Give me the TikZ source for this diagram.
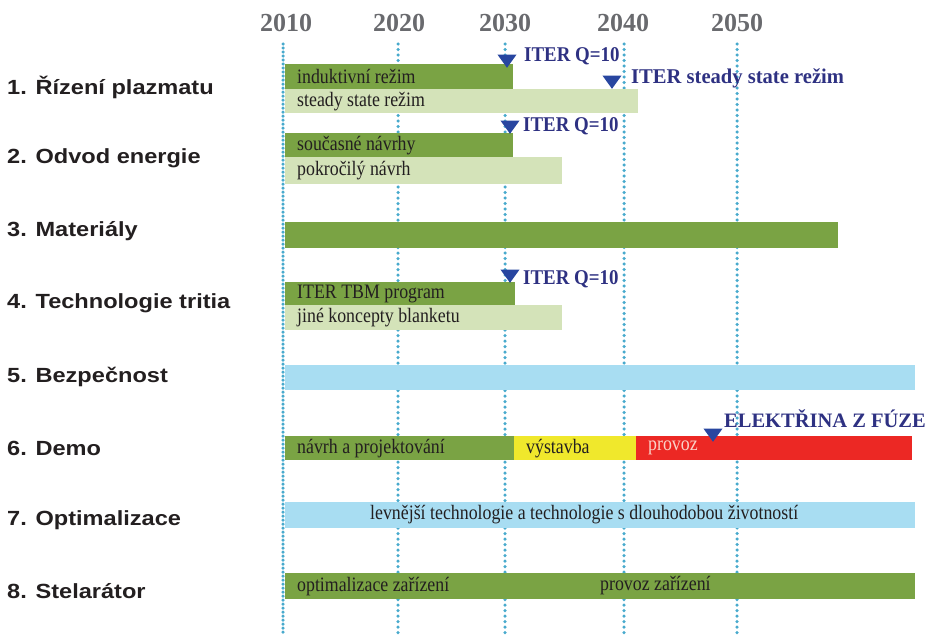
\documentclass[tikz,border=0pt]{standalone}
\usepackage{fontspec}
\setmainfont{Liberation Serif}
\setsansfont{Liberation Sans}
\newfontfamily\labelfont[FakeStretch=1.15]{Liberation Sans}
\newfontfamily\barfont[FakeStretch=0.87]{Liberation Serif}
\newfontfamily\iterfont[FakeStretch=0.9]{Liberation Serif}
\newfontfamily\iterwfont[FakeStretch=0.98]{Liberation Serif}
\usetikzlibrary{shapes.geometric}
\definecolor{dgreen}{RGB}{122,163,68}
\definecolor{lgreen}{RGB}{212,227,185}
\definecolor{lblue}{RGB}{168,221,242}
\definecolor{dyellow}{RGB}{240,232,44}
\definecolor{dred}{RGB}{236,40,36}
\definecolor{mblue}{RGB}{40,70,160}
\definecolor{tblue}{RGB}{46,49,130}
\definecolor{ygray}{RGB}{105,106,110}
\definecolor{dotc}{RGB}{72,170,205}
\definecolor{ink}{RGB}{35,31,32}
\definecolor{pinktext}{RGB}{250,210,200}
\tikzset{
  bar/.style={anchor=north west, inner sep=0pt, draw=none},
  bartext/.style={anchor=west, inner sep=0pt, font=\barfont\fontsize{20.5}{20.5}\selectfont, text=ink},
  rowlabel/.style={anchor=west, inner sep=0pt, font=\labelfont\bfseries\fontsize{20.5}{20.5}\selectfont, text=ink},
  year/.style={font=\bfseries\fontsize{26}{26}\selectfont, text=ygray, inner sep=0pt},
  gridline/.style={dotc, line width=3.5pt, line cap=round, dash pattern=on 0pt off 5.5pt},
  marker/.style={regular polygon, regular polygon sides=3, shape border rotate=180, fill=mblue, minimum size=22pt, inner sep=0pt, yscale=0.8, transform shape},
  mtext/.style={anchor=west, inner sep=0pt, font=\iterfont\bfseries\fontsize{21}{21}\selectfont, text=tblue},
}
\newcommand\mkbar[7]{%
  \node[bar, fill=#6, minimum width={(#4-#2)*1pt}, minimum height={(#5-#3)*1pt}] (#1) at (#2,#3) {};
  \node[bartext] (#1t) at ([xshift=12pt]#1.west) {#7};
}
\newcommand\mkplainbar[6]{%
  \node[bar, fill=#6, minimum width={(#4-#2)*1pt}, minimum height={(#5-#3)*1pt}] (#1) at (#2,#3) {};
}
\begin{document}
\begin{tikzpicture}[x=1pt,y=-1pt]
\useasboundingbox (0,0) rectangle (935,635);
% years
\node[year] (y2010) at (286,22.5) {2010};
\node[year] (y2020) at (399,22.5) {2020};
\node[year] (y2030) at (505,22.5) {2030};
\node[year] (y2040) at (623,22.5) {2040};
\node[year] (y2050) at (737,22.5) {2050};
% grid lines
\foreach \n/\x in {1/283,2/398,3/505,4/624,5/737}{
  \coordinate (g\n t) at (\x,44);
  \coordinate (g\n b) at (\x,635);
}
\draw[gridline, dash pattern=on 0pt off 4pt] (g1t) -- (g1b);
\foreach \n in {2,3,4,5}{\draw[gridline] (g\n t) -- (g\n b);}
% row labels
\node[rowlabel] (l1) at (7,87) {1. Řízení plazmatu};
\node[rowlabel] (l2) at (7,158) {2. Odvod energie};
\node[rowlabel] (l3) at (7,231) {3. Materiály};
\node[rowlabel] (l4) at (7,303) {4. Technologie tritia};
\node[rowlabel] (l5) at (7,377) {5. Bezpečnost};
\node[rowlabel] (l6) at (7,448) {6. Demo};
\node[rowlabel] (l7) at (7,520) {7. Optimalizace};
\node[rowlabel] (l8) at (7,591) {8. Stelarátor};
% bars
\mkbar{r1a}{285}{64}{513}{89}{dgreen}{induktivní režim}
\mkbar{r1b}{285}{89}{638}{113}{lgreen}{steady state režim}
\mkbar{r2a}{285}{133}{513}{157}{dgreen}{současné návrhy}
\mkbar{r2b}{285}{157}{562}{184}{lgreen}{pokročilý návrh}
\mkplainbar{r3}{285}{222}{838}{248}{dgreen}
\mkbar{r4a}{285}{282}{515}{305}{dgreen}{ITER TBM program}
\mkbar{r4b}{285}{305}{562}{330}{lgreen}{jiné koncepty blanketu}
\mkplainbar{r5}{285}{365}{915}{390}{lblue}
\mkbar{r6a}{285}{436}{514}{460}{dgreen}{návrh a projektování}
\mkbar{r6b}{514}{436}{636}{460}{dyellow}{výstavba}
\mkplainbar{r6c}{636}{436}{912}{460}{dred}
\node[bartext, text=pinktext] (r6ct) at ([xshift=12pt]r6c.west) {provoz};
\mkplainbar{r7}{285}{502}{915}{528}{lblue}
\node[bartext, anchor=west] (r7t) at (370,515) {levnější technologie a technologie s dlouhodobou životností};
\mkbar{r8}{285}{573}{915}{599}{dgreen}{optimalizace zařízení}
\node[bartext] (r8t2) at (600,586) {provoz zařízení};
% markers
\node[marker] (m1) at (507,59) {};
\node[mtext] (m1t) at (524,56.5) {ITER Q=10};
\node[marker] (m2) at (612,80) {};
\node[mtext, font=\iterwfont\bfseries\fontsize{21}{21}\selectfont] (m2t) at (631,78.5) {ITER steady state režim};
\node[marker] (m3) at (510,125) {};
\node[mtext] (m3t) at (523,126) {ITER Q=10};
\node[marker] (m4) at (510,274) {};
\node[mtext] (m4t) at (523,279) {ITER Q=10};
\node[marker] (m5) at (713,433) {};
\node[mtext, font=\bfseries\fontsize{20.5}{20.5}\selectfont] (m5t) at (724,419) {ELEKTŘINA Z FÚZE};
\end{tikzpicture}
\end{document}
